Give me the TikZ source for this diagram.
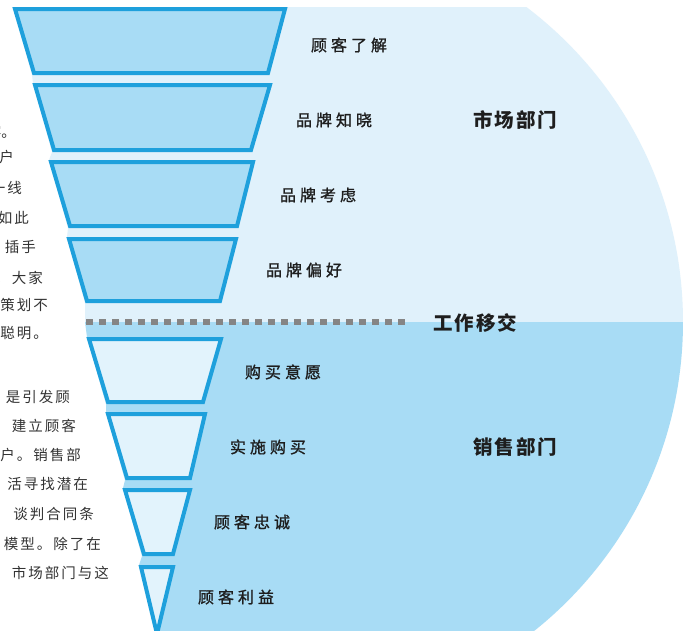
\documentclass[tikz,border=0pt]{standalone}
\usepackage{fontspec}
\newfontfamily\cjk{Noto Sans CJK SC}
\newfontfamily\cjkmed[FakeBold=1.2]{Noto Sans CJK SC}
\definecolor{upbg}{HTML}{E0F1FB}
\definecolor{lowbg}{HTML}{A8DCF5}
\definecolor{upfill}{HTML}{A8DCF5}
\definecolor{lowfill}{HTML}{E2F3FC}
\definecolor{edgeblue}{HTML}{1EA0DC}
\definecolor{dotgray}{HTML}{858585}
\definecolor{ink}{HTML}{1E1E1E}
\definecolor{sideink}{HTML}{333333}
\makeatletter
\newcommand\ls[2]{\def\lsgap{\kern#1}\ls@first#2\@nil}
\def\ls@first#1{\ifx#1\@nil\else#1\expandafter\ls@rest\fi}
\def\ls@rest#1{\ifx#1\@nil\else\lsgap#1\expandafter\ls@rest\fi}
\makeatother
\begin{document}
\begin{tikzpicture}[x=1pt,y=-1pt,
  upper/.style={draw=edgeblue,fill=upfill,line width=4pt,line join=miter},
  lower/.style={draw=edgeblue,fill=lowfill,line width=4pt,line join=miter},
  stage/.style={font=\cjkmed\fontsize{16}{16}\selectfont,text=ink,inner sep=0pt},
  dept/.style={font=\cjk\bfseries\fontsize{19.5}{20}\selectfont,text=ink,inner sep=0pt},
  side/.style={font=\cjk\fontsize{14.5}{15}\selectfont,text=sideink,inner sep=0pt,anchor=east}]
\useasboundingbox (0,0) rectangle (683,630);
\clip (0,0) rectangle (683,630);
\fill[white] (0,0) rectangle (683,630);
% backgrounds
\begin{scope}
  \clip (13,7) -- (720,7) -- (720,322) -- (85,322) -- (85,303) -- (67,237)
        -- (68,228) -- (49,160) -- (52,152) -- (33,83) -- (32,75) -- cycle;
  \fill[upbg] (288,322) circle (395pt);
\end{scope}
\begin{scope}
  \clip (85,322) -- (720,322) -- (720,660) -- (164,660) -- (157,632)
        -- (139,565) -- (142,556) -- (123,488) -- (125,480) -- (106,412)
        -- (106,404) -- (87,337) -- cycle;
  \fill[lowbg] (288,322) circle (395pt);
\end{scope}
% funnel layers
\draw[upper] (15,9) -- (285,9) -- (268,73) -- (34,73) -- cycle;
\draw[upper] (35,85) -- (270,85) -- (251,150) -- (54,150) -- cycle;
\draw[upper] (51,162) -- (253,162) -- (237,226) -- (70,226) -- cycle;
\draw[upper] (69,239) -- (236,239) -- (220,301) -- (87,301) -- cycle;
\draw[lower] (89,339) -- (221,339) -- (203,402) -- (108,402) -- cycle;
\draw[lower] (108,414) -- (205,414) -- (190,478) -- (127,478) -- cycle;
\draw[lower] (125,490) -- (190,490) -- (173,554) -- (144,554) -- cycle;
\draw[lower] (141,567) -- (173,567) -- (157,634) -- cycle;
% handover line
\coordinate (hs) at (86,322);
\coordinate (he) at (405,322);
\draw[dotgray,line width=6pt,dash pattern=on 7pt off 6pt] (hs) -- (he);
% stage labels
\node[stage] (s1) at (349,45) {\ls{4pt}{顾客了解}};
\node[stage] (s2) at (334,120) {\ls{4pt}{品牌知晓}};
\node[stage] (s3) at (318,195) {\ls{4pt}{品牌考虑}};
\node[stage] (s4) at (304,270) {\ls{4pt}{品牌偏好}};
\node[stage] (s5) at (283,372) {\ls{4pt}{购买意愿}};
\node[stage] (s6) at (268,447) {\ls{4pt}{实施购买}};
\node[stage] (s7) at (252,522) {\ls{4pt}{顾客忠诚}};
\node[stage] (s8) at (236,597) {\ls{4pt}{顾客利益}};
% department labels
\node[dept] (mkt) at (515,120) {\ls{2pt}{市场部门}};
\node[dept] (hand) at (475,323) {\ls{2pt}{工作移交}};
\node[dept] (sales) at (515,447) {\ls{2pt}{销售部门}};
% cut-off body text on the left
\node[side] (t1) at (16,132) {客。};
\node[side] (t2) at (14,157) {户};
\node[side] (t3) at (22,188) {\ls{2pt}{一线}};
\node[side] (t4) at (29,218) {\ls{2pt}{如此}};
\node[side] (t5) at (36,247) {\ls{2pt}{插手}};
\node[side] (t6) at (43,278) {\ls{2pt}{，大家}};
\node[side] (t7) at (48,305) {\ls{2pt}{策划不}};
\node[side] (t8) at (48,333) {\ls{2pt}{聪明。}};
\node[side] (b1) at (70,397) {\ls{2pt}{是引发顾}};
\node[side] (b2) at (76,426) {\ls{2pt}{建立顾客}};
\node[side] (b3) at (81,455) {\ls{2pt}{户。销售部}};
\node[side] (b4) at (88,484) {\ls{2pt}{活寻找潜在}};
\node[side] (b5) at (94,514) {\ls{2pt}{谈判合同条}};
\node[side] (b6) at (101,544) {\ls{2pt}{模型。除了在}};
\node[side] (b7) at (109,573) {\ls{2pt}{市场部门与这}};
\end{tikzpicture}
\end{document}
